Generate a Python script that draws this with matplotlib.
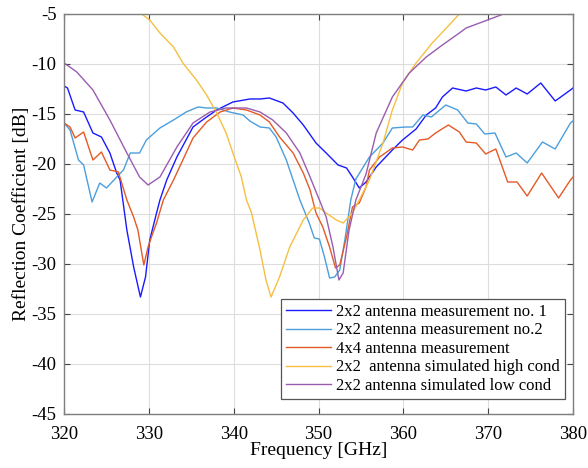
import matplotlib
matplotlib.use("Agg")
import matplotlib.pyplot as plt

plt.rcParams['font.family'] = ['Liberation Serif', 'DejaVu Serif']
plt.rcParams['axes.unicode_minus'] = False

# --- data (frequency GHz, reflection coefficient dB) ---
f_m1 = [320.0, 320.4, 321.3, 322.3, 323.4, 324.4, 325.4, 326.2, 326.6, 327.4, 328.2, 329.0, 329.6, 330.1,
        330.9, 331.3, 332.1, 333.3, 335.2, 336.8, 338.0, 339.9, 341.9, 343.1, 344.2, 345.8, 347.0, 348.2,
        349.7, 350.9, 352.3, 353.3, 354.0, 354.8, 355.6, 356.8, 358.7, 359.9, 361.5, 362.7, 363.8, 364.6,
        365.8, 367.4, 368.6, 369.7, 370.9, 372.1, 373.3, 374.6, 376.2, 377.9, 379.7, 380.0]
r_m1 = [-12.2, -12.4, -14.6, -14.8, -16.9, -17.3, -18.9, -20.9, -21.6, -26.6, -30.3, -33.3, -31.3, -27.6,
        -24.9, -23.6, -21.6, -19.3, -16.3, -15.3, -14.6, -13.8, -13.5, -13.5, -13.4, -13.9, -14.9, -16.1,
        -17.9, -18.9, -20.1, -20.4, -21.3, -22.4, -21.8, -20.3, -18.6, -17.6, -16.5, -15.1, -14.4, -13.3,
        -12.4, -12.7, -12.4, -12.6, -12.3, -13.1, -12.4, -13.0, -11.9, -13.7, -12.6, -12.4]

f_m2 = [320.0, 320.7, 321.7, 322.3, 323.3, 324.2, 325.0, 326.2, 327.0, 327.8, 328.9, 329.7, 331.3, 332.9,
        334.4, 335.8, 336.8, 338.0, 339.5, 341.1, 341.9, 343.1, 344.2, 345.0, 346.2, 347.0, 347.8, 348.9,
        349.5, 350.1, 350.7, 351.3, 351.9, 352.5, 353.1, 353.8, 354.4, 356.0, 357.6, 358.7, 360.3, 361.1,
        362.3, 363.3, 365.0, 366.4, 367.6, 368.6, 369.6, 370.8, 372.1, 373.3, 374.6, 376.4, 377.9, 379.7, 380.0]
r_m2 = [-15.9, -16.6, -19.6, -20.1, -23.8, -21.9, -22.4, -21.3, -20.6, -18.9, -18.9, -17.6, -16.4, -15.6,
        -14.8, -14.3, -14.4, -14.4, -14.8, -15.1, -15.7, -16.3, -16.4, -17.3, -19.6, -21.6, -23.6, -25.9,
        -27.4, -27.5, -29.3, -31.4, -31.3, -30.6, -27.6, -23.6, -21.5, -19.3, -17.9, -16.4, -16.3, -16.3,
        -15.1, -15.3, -14.1, -14.6, -15.9, -16.0, -17.0, -16.9, -19.3, -18.9, -19.9, -17.8, -18.5, -15.9, -15.7]

f_4x4 = [320.0, 320.7, 321.3, 322.3, 323.4, 324.4, 325.4, 326.4, 327.4, 328.2, 328.7, 329.4, 329.9, 330.3,
         330.9, 331.7, 332.9, 334.0, 335.2, 336.8, 338.4, 339.9, 341.5, 343.1, 344.2, 345.4, 347.0, 348.2,
         349.0, 349.7, 350.5, 351.3, 352.0, 352.5, 353.3, 354.0, 354.8, 355.6, 356.0, 357.2, 358.7, 359.9,
         361.1, 361.9, 362.9, 363.8, 365.3, 366.6, 367.4, 368.6, 369.7, 370.9, 372.3, 373.4, 374.6, 376.3,
         378.3, 379.7, 380.0]
r_4x4 = [-15.9, -16.3, -17.4, -16.8, -19.6, -18.8, -20.6, -20.8, -23.6, -25.3, -26.6, -30.1, -28.3, -27.3,
         -25.9, -23.6, -21.6, -19.6, -17.4, -15.8, -14.8, -14.4, -14.6, -15.1, -15.8, -17.3, -18.9, -20.9,
         -22.6, -24.9, -26.3, -28.3, -30.4, -30.1, -27.3, -24.3, -23.9, -22.3, -20.6, -19.3, -18.4, -18.3,
         -18.6, -17.6, -17.5, -16.9, -16.1, -16.8, -17.8, -17.9, -19.0, -18.5, -21.8, -21.8, -23.2, -20.9,
         -23.4, -21.6, -21.3]

f_high = [328.5, 329.3, 330.1, 331.3, 332.9, 334.0, 335.6, 336.8, 338.0, 339.1, 339.9, 340.9, 341.5, 342.1,
          343.1, 343.8, 344.4, 345.4, 346.6, 348.2, 349.3, 350.1, 350.9, 352.1, 352.9, 354.0, 354.8, 356.0,
          357.6, 358.7, 359.9, 361.5, 363.4, 365.4, 366.6, 367.5]
r_high = [-4.3, -5.1, -5.6, -6.9, -8.3, -9.9, -11.6, -13.1, -14.9, -16.9, -18.9, -21.3, -23.6, -24.9,
          -28.6, -31.6, -33.3, -31.3, -28.3, -25.6, -24.4, -24.4, -24.9, -25.6, -25.9, -24.9, -23.6, -21.6,
          -17.9, -14.6, -11.9, -9.9, -7.9, -6.1, -5.0, -4.3]

f_low = [320.0, 321.5, 323.4, 325.4, 327.4, 328.9, 329.9, 331.3, 333.3, 335.2, 337.2, 339.1, 341.5, 343.1,
         344.6, 346.2, 347.8, 349.0, 350.1, 350.9, 351.7, 352.4, 352.9, 353.6, 354.4, 355.6, 356.8, 358.7,
         360.7, 362.7, 364.6, 366.6, 367.4, 369.3, 371.5, 372.5]
r_low = [-9.9, -10.8, -12.6, -15.6, -18.9, -21.3, -22.1, -21.3, -18.3, -15.9, -14.8, -14.4, -14.4, -14.8,
         -15.6, -16.9, -18.9, -21.3, -23.6, -25.3, -28.3, -31.6, -30.9, -26.6, -23.6, -21.0, -16.9, -13.3,
         -10.9, -9.3, -8.1, -6.9, -6.4, -5.8, -5.1, -4.7]

labels = ["2x2 antenna measurement no. 1",
          "2x2 antenna measurement no.2",
          "4x4 antenna measurement",
          "2x2  antenna simulated high cond",
          "2x2 antenna simulated low cond"]
colors = ['#1a1aff', '#4a9fdc', '#e45a26', '#f5c040', '#9a5cb0']

x_ticks = [320, 330, 340, 350, 360, 370, 380]
y_ticks = [-45, -40, -35, -30, -25, -20, -15, -10, -5]

fig = plt.figure(figsize=(5.88, 4.68), dpi=100)
ax = fig.add_axes([0.109, 0.1154, 0.8655, 0.8547])

series = [(f_m1, r_m1), (f_m2, r_m2), (f_4x4, r_4x4), (f_high, r_high), (f_low, r_low)]
for (f, r), c, lab in zip(series, colors, labels):
    ax.plot(f, r, color=c, lw=1.0, label=lab)

ax.set_xlim(320, 380)
ax.set_ylim(-45, -5)
ax.set_xticks(x_ticks)
ax.set_yticks(y_ticks)
ax.grid(True, color='#dddddd', lw=0.8)
ax.set_axisbelow(True)
for s in ax.spines.values():
    s.set_color('#7f7f7f')
    s.set_linewidth(1.0)
ax.tick_params(direction='in', top=True, right=True, length=4, color='#444444',
               labelsize=13.5)
ax.tick_params(axis='x', pad=9)
ax.tick_params(axis='y', pad=5.5)
ax.set_xlabel('Frequency [GHz]', fontsize=14, labelpad=-1)
ax.set_ylabel('Reflection Coefficient [dB]', fontsize=14, labelpad=1)

leg = ax.legend(loc='lower right', bbox_to_anchor=(0.984, 0.0375), borderaxespad=0,
                fontsize=12, fancybox=False, framealpha=1, edgecolor='#555555',
                handlelength=2.7, labelspacing=0.15, borderpad=0.3, handletextpad=0.3)
leg.get_frame().set_linewidth(0.9)

fig.savefig('out.png', dpi=100)
